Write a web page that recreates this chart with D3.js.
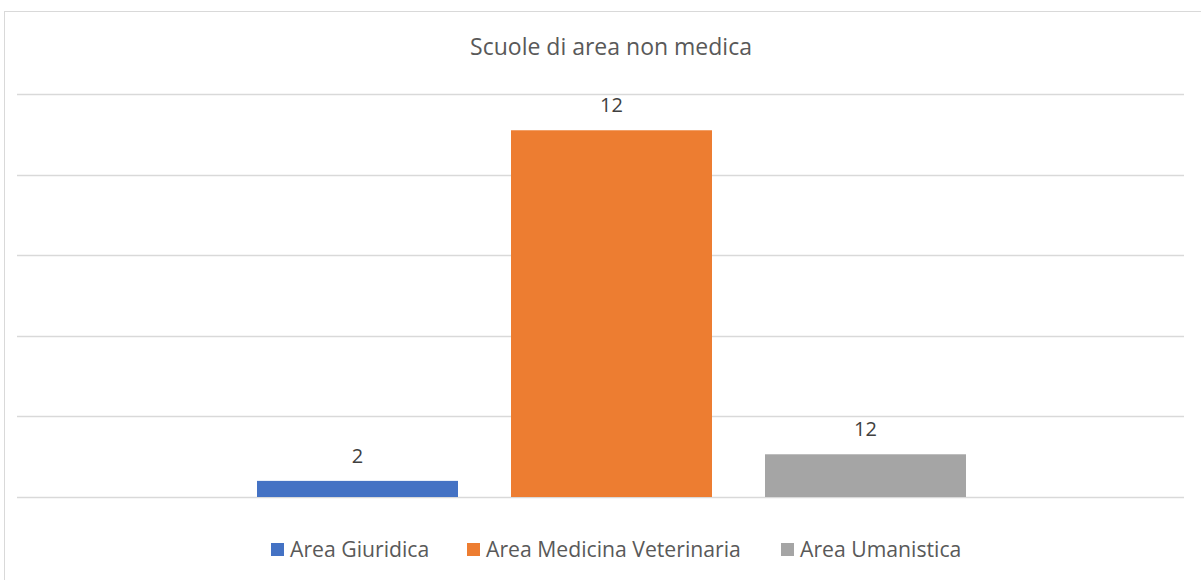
<!DOCTYPE html>
<html>
<head>
<meta charset="utf-8">
<script src="https://cdn.jsdelivr.net/npm/d3@7"></script>
<style>
  body { margin: 0; background: #fff; }
  svg text { font-family: "Open Sans", sans-serif; }
</style>
</head>
<body>
<svg id="chart" width="1201" height="580"></svg>
<script>
const categories = ["Area Giuridica", "Area Medicina Veterinaria", "Area Umanistica"];
const values = [2, 45.5, 5.3];
const labels = ["2", "12", "12"];
const colors = ["#4472c4", "#ed7d31", "#a5a5a5"];
const yTicks = [0, 10, 20, 30, 40, 50];

const svg = d3.select("#chart");
const width = 1201, height = 580;

// outer chart border
svg.append("rect")
  .attr("x", 4.5).attr("y", 11.5)
  .attr("width", width).attr("height", height)
  .attr("fill", "#fff")
  .attr("stroke", "#d9d9d9");

const plotLeft = 17, plotRight = 1184;

const y = d3.scaleLinear()
  .domain([0, 50])
  .range([497, 94]);

const x = d3.scaleBand()
  .domain(categories)
  .range([257, 966])
  .paddingInner(0.2087)
  .paddingOuter(0);

// gridlines
svg.append("g")
  .selectAll("line")
  .data(yTicks)
  .join("line")
  .attr("x1", plotLeft).attr("x2", plotRight)
  .attr("y1", d => Math.round(y(d)) + 0.5)
  .attr("y2", d => Math.round(y(d)) + 0.5)
  .attr("stroke", "#d9d9d9")
  .attr("stroke-width", 1.3);

svg.append("text")
  .attr("x", 611).attr("y", 55)
  .attr("text-anchor", "middle")
  .attr("font-size", 23)
  .attr("fill", "#595959")
  .text("Scuole di area non medica");

// bars
svg.append("g")
  .selectAll("rect")
  .data(values)
  .join("rect")
  .attr("x", (d, i) => x(categories[i]))
  .attr("width", x.bandwidth())
  .attr("y", d => y(d))
  .attr("height", d => y(0) - y(d))
  .attr("fill", (d, i) => colors[i]);

// data labels
svg.append("g")
  .selectAll("text")
  .data(values)
  .join("text")
  .attr("x", (d, i) => x(categories[i]) + x.bandwidth() / 2)
  .attr("y", d => y(d) - 18)
  .attr("text-anchor", "middle")
  .attr("font-size", 20)
  .attr("fill", "#404040")
  .text((d, i) => labels[i]);

// legend
const legendX = [271, 467, 781];
const legend = svg.append("g")
  .selectAll("g")
  .data(categories)
  .join("g")
  .attr("transform", (d, i) => `translate(${legendX[i]},549)`);

legend.append("rect")
  .attr("x", 0).attr("y", -6)
  .attr("width", 13).attr("height", 13)
  .attr("fill", (d, i) => colors[i]);

legend.append("text")
  .attr("x", 19).attr("y", 7.5)
  .attr("font-size", 21.2)
  .attr("fill", "#595959")
  .text(d => d);
</script>
</body>
</html>
